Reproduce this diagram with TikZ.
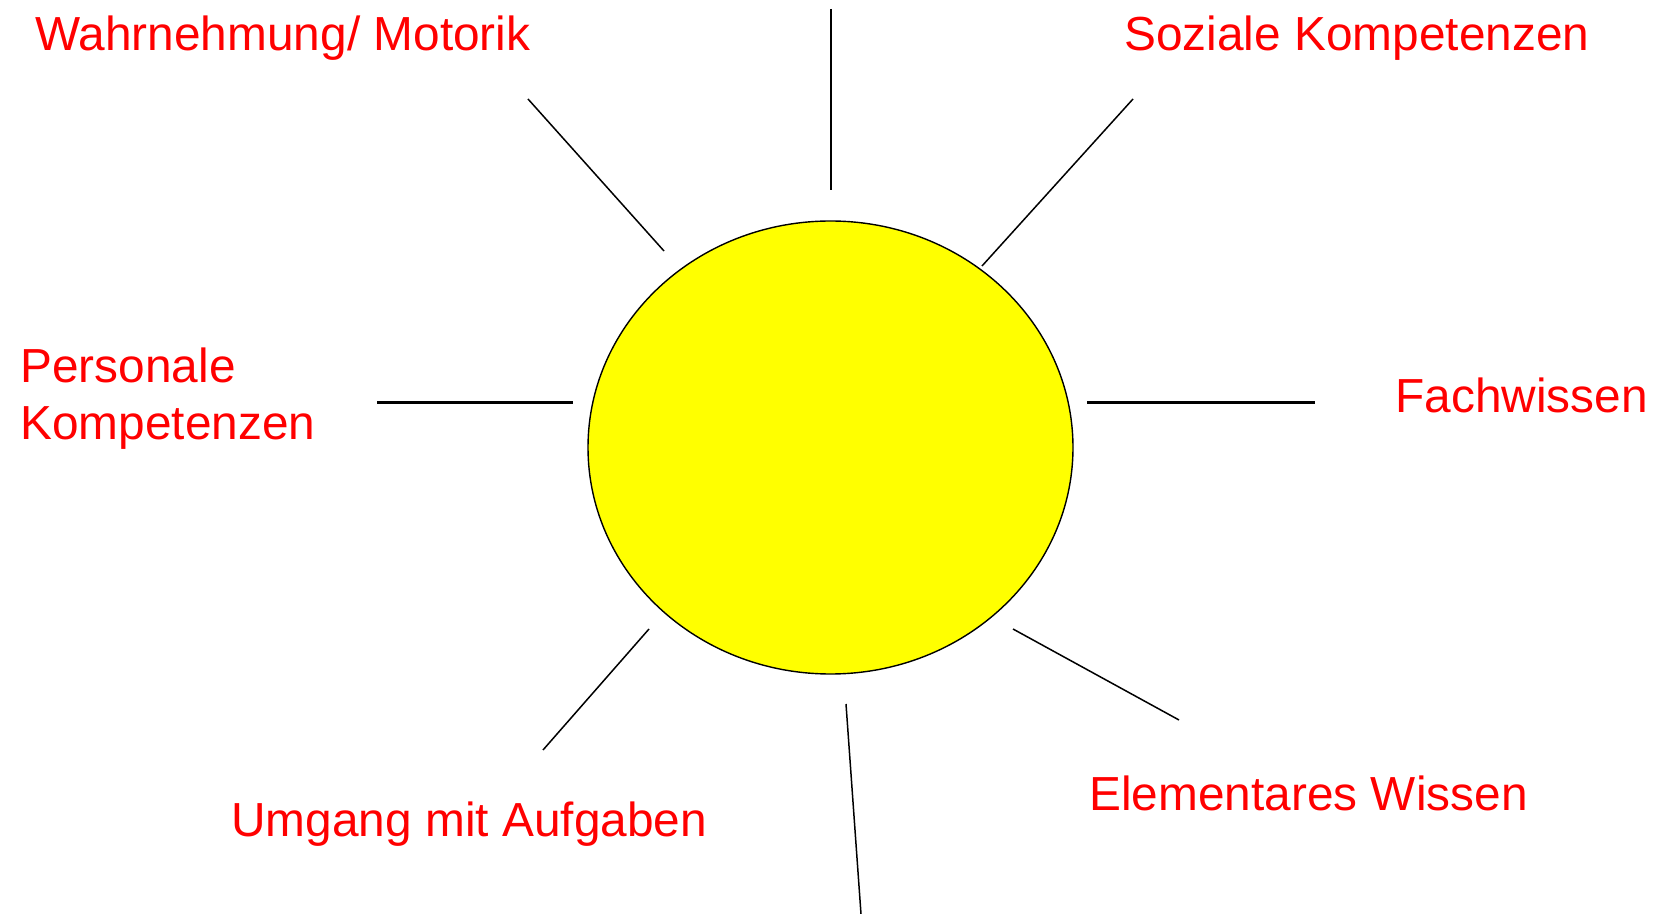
\documentclass[tikz,border=0pt]{standalone}
\usepackage{fontspec}
\setmainfont{Liberation Sans}
\usetikzlibrary{shapes.geometric}
\definecolor{sunyellow}{RGB}{255,255,0}
\definecolor{lblred}{RGB}{255,0,0}
\begin{document}
\begin{tikzpicture}[x=0.5pt,y=-0.5pt,
  lbl/.style={text=lblred,font=\fontsize{23.9}{28.5}\selectfont,anchor=base west,inner sep=0pt,align=left},
  ray/.style={draw=black,line width=0.75pt},
  thickray/.style={draw=black,line width=1.5pt},
  sun/.style={ellipse,draw=black,fill=sunyellow,line width=0.7pt,inner sep=0pt,minimum width=242.5pt,minimum height=226.5pt}]
\useasboundingbox (0,0) rectangle (1656,914);
\node[sun] (sun) at (830.5,447.5) {};
% rays
\coordinate (t1) at (831,9); \coordinate (t2) at (831,190);
\coordinate (ul1) at (528,99); \coordinate (ul2) at (664,251);
\coordinate (ur1) at (1133,99); \coordinate (ur2) at (982,266);
\coordinate (l1) at (377,403); \coordinate (l2) at (573,403);
\coordinate (r1) at (1087,403); \coordinate (r2) at (1315,403);
\coordinate (ll1) at (649,629); \coordinate (ll2) at (543,750);
\coordinate (b1) at (846,704); \coordinate (b2) at (861,914);
\coordinate (lr1) at (1013,629); \coordinate (lr2) at (1179,720);
\draw[ray] (t1) -- (t2);
\draw[ray] (ul1) -- (ul2);
\draw[ray] (ur1) -- (ur2);
\draw[thickray] (l1) -- (l2);
\draw[thickray] (r1) -- (r2);
\draw[ray] (ll1) -- (ll2);
\draw[ray] (b1) -- (b2);
\draw[ray] (lr1) -- (lr2);
% labels
\node[lbl] (wm) at (35,50.7) {Wahrnehmung/ Motorik};
\node[lbl] (sk) at (1124,50.7) {Soziale Kompetenzen};
\node[lbl] (pk1) at (20,383) {Personale};
\node[lbl] (pk2) at (20,440) {Kompetenzen};
\node[lbl] (fw) at (1395,413) {Fachwissen};
\node[lbl] (ua) at (231,836) {Umgang mit Aufgaben};
\node[lbl] (ew) at (1089,810) {Elementares Wissen};
\end{tikzpicture}
\end{document}
